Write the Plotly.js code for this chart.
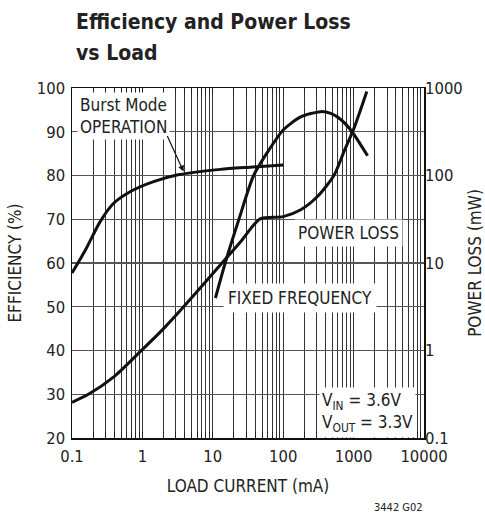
<!DOCTYPE html>
<html>
<head>
<meta charset="utf-8">
<script src="https://cdn.plot.ly/plotly-3.0.1.min.js"></script>
<style>html,body{margin:0;padding:0;background:#fff;}#chart{width:485px;height:518px;}</style>
</head>
<body>
<div id="chart"></div>
<script>
// ---- data ----
var burstCurrent = [0.1, 0.158, 0.25, 0.387, 0.67, 1.44, 3.1, 12.8, 34, 100];
var burstEff     = [57.7, 63.2, 69.4, 73.6, 76.3, 78.6, 80.1, 81.4, 81.9, 82.4];

var fixedCurrent = [10.9, 15, 23.5, 38, 62.5, 100, 177, 340, 473, 658, 912, 1580];
var fixedEff     = [52.0, 60.0, 70.0, 80.0, 85.8, 90.4, 93.4, 94.6, 94.2, 92.8, 90.4, 84.5];

var lossCurrent  = [0.1, 0.171, 0.4, 0.98, 2.0, 3.85, 13.5, 25, 47, 100, 175, 306, 525, 735, 1017, 1540];
var lossPower    = [0.256, 0.316, 0.507, 1.01, 1.78, 3.16, 10, 17.6, 32, 33.9, 40.3, 57.5, 100, 190, 350, 912];

var xTickVals  = [0.1, 1, 10, 100, 1000, 10000];
var xTickText  = ['0.1', '1', '10', '100', '1000', '10000'];
var effTicks   = [20, 30, 40, 50, 60, 70, 80, 90, 100];
var lossTicks  = [0.1, 1, 10, 100, 1000];
var lossText   = ['0.1', '1', '10', '100', '1000'];

var minorX = [];
xTickVals.slice(0, 5).forEach(function (d) {
  for (var k = 2; k <= 9; k++) minorX.push(+(d * k).toPrecision(3));
});

var FONT = '"DejaVu Sans Condensed", "Liberation Sans Narrow", "Liberation Sans", Arial, sans-serif';
var PX = function (px) { return (px - 72) / 351; };
var PY = function (py) { return (438 - py) / 350; };

var lineStyle = {color: '#111', width: 3, shape: 'spline', smoothing: 0.7};

var traces = [
  {x: burstCurrent, y: burstEff, mode: 'lines', line: lineStyle, xaxis: 'x', yaxis: 'y', name: 'Burst Mode'},
  {x: fixedCurrent, y: fixedEff, mode: 'lines', line: lineStyle, xaxis: 'x', yaxis: 'y', name: 'Fixed Frequency'},
  {x: lossCurrent, y: lossPower, mode: 'lines', line: lineStyle, xaxis: 'x', yaxis: 'y2', name: 'Power Loss'}
];

var tickF = {family: FONT, size: 16.5, color: '#222'};
var txt = {family: FONT, size: 17, color: '#222'};

var layout = {
  width: 485, height: 518,
  margin: {l: 72, r: 61, t: 88, b: 80},
  paper_bgcolor: '#fff', plot_bgcolor: '#fff',
  showlegend: false,
  font: {family: FONT, size: 17, color: '#222'},
  xaxis: {
    type: 'log', range: [-1, 4],
    tickmode: 'array', tickvals: xTickVals, ticktext: xTickText,
    ticks: 'inside', ticklen: 6, tickcolor: '#222', tickwidth: 1,
    showgrid: true, gridcolor: '#333', gridwidth: 1,
    minor: {tickmode: 'array', tickvals: minorX, showgrid: true, gridcolor: '#333', gridwidth: 1,
            ticks: 'inside', ticklen: 6, tickcolor: '#222'},
    showline: true, linecolor: '#111', linewidth: 1.5, mirror: 'ticks',
    zeroline: false, ticklabelstandoff: 3,
    tickfont: tickF,
    title: {text: 'LOAD CURRENT (mA)', font: txt, standoff: 15}
  },
  yaxis: {
    range: [20, 100], tickmode: 'array', tickvals: effTicks,
    ticks: '', showgrid: true, gridcolor: '#555', gridwidth: 1.3,
    showline: true, linecolor: '#111', linewidth: 1.5, mirror: true, zeroline: false,
    ticklabelstandoff: 2,
    tickfont: tickF,
    title: {text: 'EFFICIENCY (%)', font: txt, standoff: 11}
  },
  yaxis2: {
    type: 'log', range: [-1, 3], overlaying: 'y', side: 'right',
    tickmode: 'array', tickvals: lossTicks, ticktext: lossText,
    ticks: '', showgrid: false, zeroline: false, showline: false,
    tickfont: tickF,
    title: {text: 'POWER LOSS (mW)', font: txt, standoff: 10}
  },
  annotations: [
    {xref: 'paper', yref: 'paper', x: PX(77), y: PY(92), xanchor: 'left', yanchor: 'top',
     text: 'Burst Mode<br>OPERATION', align: 'left', showarrow: false, bgcolor: '#fff', borderpad: 2, font: txt},
    {xref: 'x', yref: 'y', x: Math.log10(3.85), y: 80.9, ax: -17, ay: -37, axref: 'pixel', ayref: 'pixel',
     text: '', showarrow: true, arrowhead: 2, arrowsize: 1, arrowwidth: 1.2, arrowcolor: '#111'},
    {xref: 'paper', yref: 'paper', x: PX(348), y: PY(233), xanchor: 'center', yanchor: 'middle',
     text: 'POWER LOSS', showarrow: false, bgcolor: '#fff', borderpad: 3, font: txt},
    {xref: 'paper', yref: 'paper', x: PX(299), y: PY(298), xanchor: 'center', yanchor: 'middle',
     text: 'FIXED FREQUENCY', showarrow: false, bgcolor: '#fff', borderpad: 4, font: txt},
    {xref: 'paper', yref: 'paper', x: PX(318), y: PY(412), xanchor: 'left', yanchor: 'middle',
     text: 'V<sub>IN</sub> = 3.6V<br>V<sub>OUT</sub> = 3.3V', align: 'left', showarrow: false,
     bgcolor: '#fff', borderpad: 2, font: txt},
    {xref: 'paper', yref: 'paper', x: PX(74), y: PY(22), xanchor: 'left', yanchor: 'middle',
     text: '<b>Efficiency and Power Loss</b>', showarrow: false, font: {family: FONT, size: 21, color: '#222'}},
    {xref: 'paper', yref: 'paper', x: PX(74), y: PY(53), xanchor: 'left', yanchor: 'middle',
     text: '<b>vs Load</b>', showarrow: false, font: {family: FONT, size: 21, color: '#222'}},
    {xref: 'paper', yref: 'paper', x: PX(424), y: PY(507), xanchor: 'right', yanchor: 'middle',
     text: '3442 G02', showarrow: false, font: {family: FONT, size: 11, color: '#222'}}
  ]
};

Plotly.newPlot('chart', traces, layout, {staticPlot: true, displayModeBar: false});
</script>
</body>
</html>
